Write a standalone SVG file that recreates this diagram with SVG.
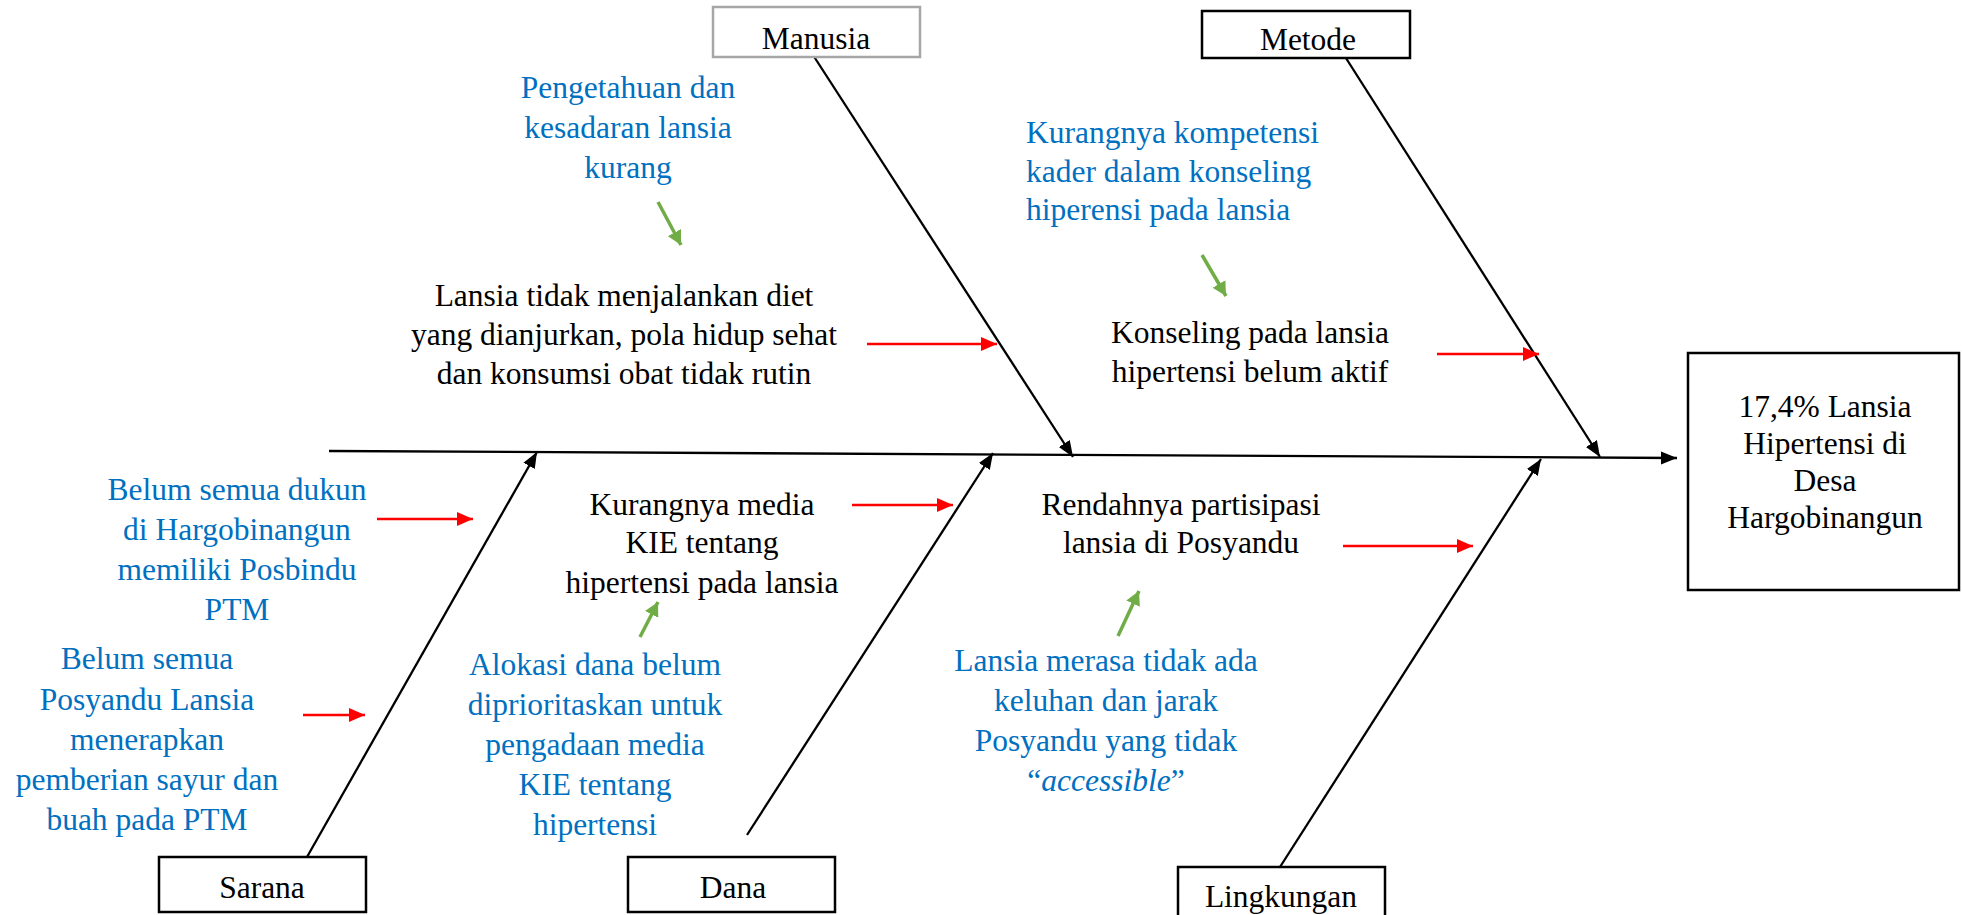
<svg xmlns="http://www.w3.org/2000/svg" width="1962" height="915" viewBox="0 0 1962 915">
<style>
  text { font-family: "Liberation Serif", "Times New Roman", serif; font-size: 31.5px; text-anchor: middle; }
  .blk { fill: #000000; }
  .blu { fill: #0070C0; }
  .box { fill: #ffffff; stroke: #000000; stroke-width: 2.5; }
  .bone { stroke: #000000; stroke-width: 2.3; fill: none; }
  .red { stroke: #FF0000; stroke-width: 2.5; fill: none; }
  .grn { stroke: #70AD47; stroke-width: 3.5; fill: none; }
</style>
<defs>
  <marker id="ahB" markerUnits="userSpaceOnUse" markerWidth="17" markerHeight="15" refX="16" refY="7.5" orient="auto">
    <path d="M0,1 L16,7.5 L0,14 z" fill="#000000"/>
  </marker>
  <marker id="ahR" markerUnits="userSpaceOnUse" markerWidth="17" markerHeight="15" refX="16" refY="7.5" orient="auto">
    <path d="M0,0.5 L16,7.5 L0,14.5 z" fill="#FF0000"/>
  </marker>
  <marker id="ahG" markerUnits="userSpaceOnUse" markerWidth="15" markerHeight="15" refX="14" refY="7.5" orient="auto">
    <path d="M0,0 L14,7.5 L0,15 z" fill="#70AD47"/>
  </marker>
</defs>
<rect width="1962" height="915" fill="#ffffff"/>

<g id="connectors">
  <line class="bone" x1="329" y1="451" x2="1677" y2="458" marker-end="url(#ahB)"/>
  <line class="bone" x1="813" y1="55" x2="1073" y2="457" marker-end="url(#ahB)"/>
  <line class="bone" x1="1344" y1="55" x2="1600" y2="457" marker-end="url(#ahB)"/>
  <line class="bone" x1="307" y1="857" x2="537" y2="452" marker-end="url(#ahB)"/>
  <line class="bone" x1="747" y1="835" x2="993" y2="453" marker-end="url(#ahB)"/>
  <line class="bone" x1="1280" y1="867" x2="1541" y2="459" marker-end="url(#ahB)"/>

  <line class="red" x1="867" y1="344" x2="997" y2="344" marker-end="url(#ahR)"/>
  <line class="red" x1="1437" y1="354" x2="1539" y2="354" marker-end="url(#ahR)"/>
  <line class="red" x1="377" y1="519" x2="473" y2="519" marker-end="url(#ahR)"/>
  <line class="red" x1="303" y1="715" x2="365" y2="715" marker-end="url(#ahR)"/>
  <line class="red" x1="852" y1="505" x2="953" y2="505" marker-end="url(#ahR)"/>
  <line class="red" x1="1343" y1="546" x2="1473" y2="546" marker-end="url(#ahR)"/>

  <line class="grn" x1="658" y1="202" x2="681" y2="245" marker-end="url(#ahG)"/>
  <line class="grn" x1="1202" y1="255" x2="1226" y2="296" marker-end="url(#ahG)"/>
  <line class="grn" x1="640" y1="637" x2="658" y2="602" marker-end="url(#ahG)"/>
  <line class="grn" x1="1118" y1="636" x2="1139" y2="591" marker-end="url(#ahG)"/>
</g>

<g id="manusia">
  <rect x="713" y="7" width="207" height="50" fill="#ffffff" stroke="#A6A6A6" stroke-width="2.5"/>
  <text class="blk" x="816" y="49">Manusia</text>
</g>
<g id="metode">
  <rect class="box" x="1202" y="11" width="208" height="47"/>
  <text class="blk" x="1308" y="50">Metode</text>
</g>
<g id="sarana">
  <rect class="box" x="159" y="857" width="207" height="55"/>
  <text class="blk" x="262" y="898">Sarana</text>
</g>
<g id="dana">
  <rect class="box" x="628" y="857" width="207" height="55"/>
  <text class="blk" x="733" y="898">Dana</text>
</g>
<g id="lingkungan">
  <rect class="box" x="1178" y="867" width="207" height="60"/>
  <text class="blk" x="1281" y="907">Lingkungan</text>
</g>
<g id="result">
  <rect class="box" x="1688" y="353" width="271" height="237"/>
  <text class="blk" x="1825" y="417">17,4% Lansia</text>
  <text class="blk" x="1825" y="454">Hipertensi di</text>
  <text class="blk" x="1825" y="491">Desa</text>
  <text class="blk" x="1825" y="528">Hargobinangun</text>
</g>

<g id="cause-manusia">
  <text class="blk" x="624" y="306">Lansia tidak menjalankan diet</text>
  <text class="blk" x="624" y="345">yang dianjurkan, pola hidup sehat</text>
  <text class="blk" x="624" y="384">dan konsumsi obat tidak rutin</text>
</g>
<g id="root-manusia">
  <text class="blu" x="628" y="98">Pengetahuan dan</text>
  <text class="blu" x="628" y="138">kesadaran lansia</text>
  <text class="blu" x="628" y="178">kurang</text>
</g>
<g id="cause-metode">
  <text class="blk" x="1250" y="343">Konseling pada lansia</text>
  <text class="blk" x="1250" y="382">hipertensi belum aktif</text>
</g>
<g id="root-metode">
  <text class="blu" x="1026" y="143" style="text-anchor:start">Kurangnya kompetensi</text>
  <text class="blu" x="1026" y="182" style="text-anchor:start">kader dalam konseling</text>
  <text class="blu" x="1026" y="220" style="text-anchor:start">hiperensi pada lansia</text>
</g>
<g id="cause-sarana-1">
  <text class="blu" x="237" y="500">Belum semua dukun</text>
  <text class="blu" x="237" y="540">di Hargobinangun</text>
  <text class="blu" x="237" y="580">memiliki Posbindu</text>
  <text class="blu" x="237" y="620">PTM</text>
</g>
<g id="cause-sarana-2">
  <text class="blu" x="147" y="669">Belum semua</text>
  <text class="blu" x="147" y="710">Posyandu Lansia</text>
  <text class="blu" x="147" y="750">menerapkan</text>
  <text class="blu" x="147" y="790">pemberian sayur dan</text>
  <text class="blu" x="147" y="830">buah pada PTM</text>
</g>
<g id="cause-dana">
  <text class="blk" x="702" y="515">Kurangnya media</text>
  <text class="blk" x="702" y="553">KIE tentang</text>
  <text class="blk" x="702" y="593">hipertensi pada lansia</text>
</g>
<g id="root-dana">
  <text class="blu" x="595" y="675">Alokasi dana belum</text>
  <text class="blu" x="595" y="715">diprioritaskan untuk</text>
  <text class="blu" x="595" y="755">pengadaan media</text>
  <text class="blu" x="595" y="795">KIE tentang</text>
  <text class="blu" x="595" y="835">hipertensi</text>
</g>
<g id="cause-lingkungan">
  <text class="blk" x="1181" y="515">Rendahnya partisipasi</text>
  <text class="blk" x="1181" y="553">lansia di Posyandu</text>
</g>
<g id="root-lingkungan">
  <text class="blu" x="1106" y="671">Lansia merasa tidak ada</text>
  <text class="blu" x="1106" y="711">keluhan dan jarak</text>
  <text class="blu" x="1106" y="751">Posyandu yang tidak</text>
  <text class="blu" x="1106" y="791">“<tspan font-style="italic">accessible</tspan>”</text>
</g>
</svg>
